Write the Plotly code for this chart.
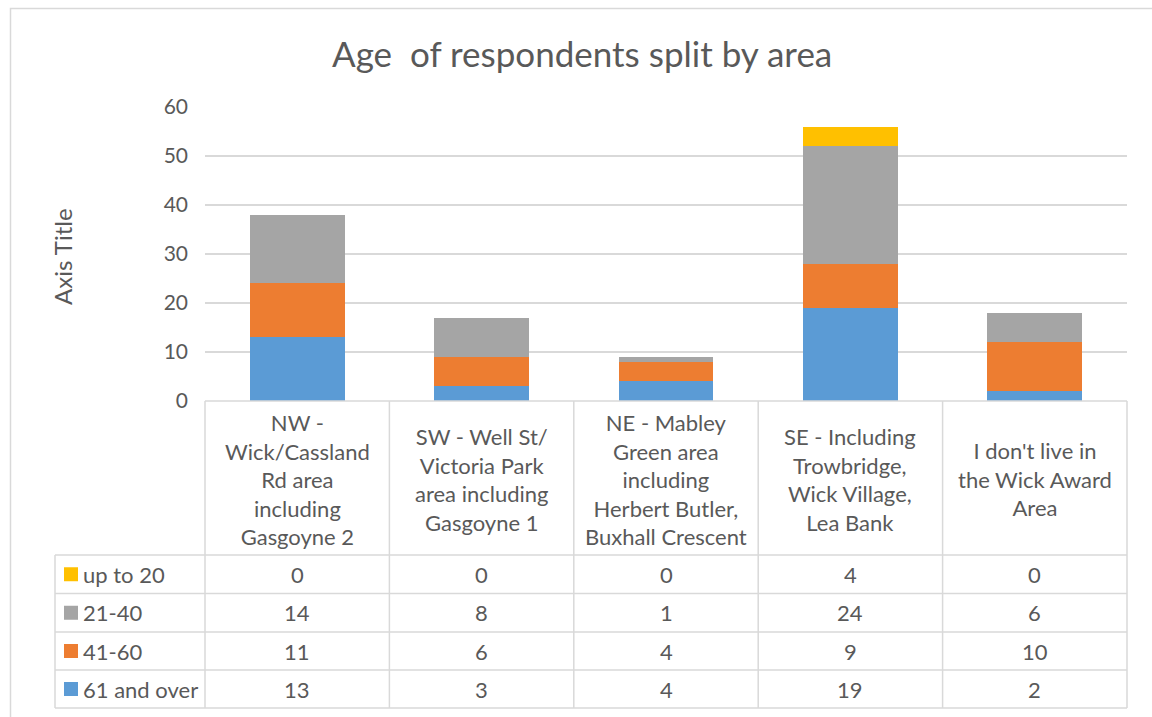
import plotly.graph_objects as go

# ---- data ----
categories = [
    "NW - Wick/Cassland Rd area including Gasgoyne 2",
    "SW - Well St/ Victoria Park area including Gasgoyne 1",
    "NE - Mabley Green area including Herbert Butler, Buxhall Crescent",
    "SE - Including Trowbridge, Wick Village, Lea Bank",
    "I don't live in the Wick Award Area",
]
category_lines = [
    ["NW -", "Wick/Cassland", "Rd area", "including", "Gasgoyne 2"],
    ["SW - Well St/", "Victoria Park", "area including", "Gasgoyne 1"],
    ["NE - Mabley", "Green area", "including", "Herbert Butler,", "Buxhall Crescent"],
    ["SE - Including", "Trowbridge,", "Wick Village,", "Lea Bank"],
    ["I don't live in", "the Wick Award", "Area"],
]
series_names = ["up to 20", "21-40", "41-60", "61 and over"]
up_to_20 = [0, 0, 0, 4, 0]
age_21_40 = [14, 8, 1, 24, 6]
age_41_60 = [11, 6, 4, 9, 10]
age_61_over = [13, 3, 4, 19, 2]
series_values = [up_to_20, age_21_40, age_41_60, age_61_over]
series_colors = ["#FFC000", "#A5A5A5", "#ED7D31", "#5B9BD5"]
y_ticks = [0, 10, 20, 30, 40, 50, 60]
title_text = "Age  of respondents split by area"
y_title = "Axis Title"

# ---- layout geometry (pixels) ----
W, H = 1152, 717
L, R, T, B = 205, 1127, 107, 401
FONT = "Lato"
TXT = "#595959"
GRID = "#D9D9D9"


def px(x):
    return (x - L) / (R - L)


def py(y):
    return (B - y) / (B - T)


fig = go.Figure()
# stacked bottom-to-top: 61 and over, 41-60, 21-40, up to 20
for name, vals, col in reversed(list(zip(series_names, series_values, series_colors))):
    fig.add_trace(go.Bar(x=categories, y=vals, name=name, marker=dict(color=col, line=dict(width=0)),
                         width=0.515, hoverinfo="x+y+name"))

shapes = []
annotations = []
line = dict(color=GRID, width=1.5)

# outer chart border
shapes.append(dict(type="rect", xref="paper", yref="paper", x0=px(10.5), x1=px(1160), y0=py(8.5), y1=py(725),
                   line=dict(color=GRID, width=1.5), layer="below"))

# data table geometry
col_w = (R - L) / len(categories)
col_edges = [L + i * col_w for i in range(len(categories) + 1)]
header_top, header_bot = 401, 555
row_edges = [555, 593.5, 632, 670, 708]
legend_left = 55

for xe in col_edges:
    shapes.append(dict(type="line", xref="paper", yref="paper", x0=px(xe), x1=px(xe),
                       y0=py(header_top), y1=py(row_edges[-1]), line=line))
shapes.append(dict(type="line", xref="paper", yref="paper", x0=px(legend_left), x1=px(legend_left),
                   y0=py(row_edges[0]), y1=py(row_edges[-1]), line=line))
shapes.append(dict(type="line", xref="paper", yref="paper", x0=px(L), x1=px(R),
                   y0=py(header_top), y1=py(header_top), line=line))
for ye in row_edges:
    shapes.append(dict(type="line", xref="paper", yref="paper", x0=px(legend_left), x1=px(R),
                       y0=py(ye), y1=py(ye), line=line))

cell_font = dict(family=FONT, size=22, color=TXT)

# header cells (category labels)
for i, lines in enumerate(category_lines):
    cx = (col_edges[i] + col_edges[i + 1]) / 2
    annotations.append(dict(xref="paper", yref="paper", x=px(cx), y=py((header_top + header_bot) / 2 + 1),
                            text="<br>".join(lines), showarrow=False, xanchor="center", yanchor="middle",
                            align="center", font=cell_font))

# table rows: legend key + values
for r, (name, vals, col) in enumerate(zip(series_names, series_values, series_colors)):
    yc = (row_edges[r] + row_edges[r + 1]) / 2
    shapes.append(dict(type="rect", xref="paper", yref="paper", x0=px(64), x1=px(78),
                       y0=py(yc - 7), y1=py(yc + 7), fillcolor=col, line=dict(width=0)))
    annotations.append(dict(xref="paper", yref="paper", x=px(81), y=py(yc), text=name, showarrow=False,
                            xanchor="left", yanchor="middle", font=cell_font))
    for i, v in enumerate(vals):
        cx = (col_edges[i] + col_edges[i + 1]) / 2
        annotations.append(dict(xref="paper", yref="paper", x=px(cx), y=py(yc), text=str(v), showarrow=False,
                                xanchor="center", yanchor="middle", font=cell_font))

# title
annotations.append(dict(xref="paper", yref="paper", x=px(582), y=py(53), text=title_text, showarrow=False,
                        xanchor="center", yanchor="middle", font=dict(family=FONT, size=35, color=TXT)))
# y axis title
annotations.append(dict(xref="paper", yref="paper", x=px(62), y=py(257), text=y_title, showarrow=False,
                        textangle=-90, xanchor="center", yanchor="middle", font=dict(family=FONT, size=24, color=TXT)))

fig.update_layout(
    width=W, height=H,
    margin=dict(l=L, r=W - R, t=T, b=H - B, pad=0),
    barmode="stack",
    showlegend=False,
    plot_bgcolor="white", paper_bgcolor="white",
    font=dict(family=FONT, color=TXT),
    shapes=shapes,
    annotations=annotations,
)
fig.update_xaxes(showticklabels=False, showgrid=False, zeroline=False, showline=False, ticks="",
                 range=[-0.5, len(categories) - 0.5])
fig.update_yaxes(range=[0, 60], tickvals=y_ticks, showgrid=True, gridcolor=GRID, gridwidth=1.5,
                 zeroline=False, showline=False, ticks="", ticklabelstandoff=16,
                 tickfont=dict(family=FONT, size=21, color=TXT))

fig.write_html("out.html", config={"displayModeBar": False},
               post_script="document.body.style.margin='0';document.body.style.overflow='hidden';")
